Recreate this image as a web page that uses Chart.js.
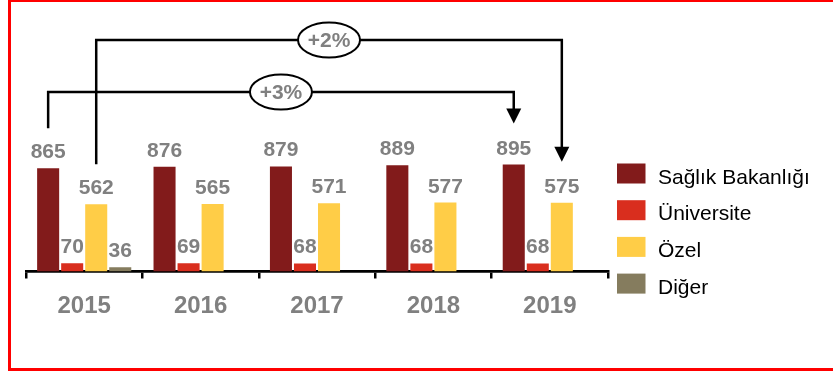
<!DOCTYPE html>
<html>
<head>
<meta charset="utf-8">
<script src="https://cdn.jsdelivr.net/npm/chart.js@4/dist/chart.umd.min.js"></script>
<style>
  html, body { margin: 0; padding: 0; background: #fff; overflow: hidden; }
  #wrap { position: relative; width: 833px; height: 373px; }
  #frame {
    position: absolute; left: 8px; top: -1px; width: 900px; height: 372px;
    box-sizing: border-box; border: 3px solid #ff0000; pointer-events: none;
  }
  canvas { position: absolute; left: 0; top: 0; }
</style>
</head>
<body>
<div id="wrap">
  <canvas id="chart" width="833" height="373"></canvas>
  <div id="frame"></div>
</div>
<script>
// Hospital bed counts by owner, 2015-2019
const years = ['2015', '2016', '2017', '2018', '2019'];
const seriesNames = ['Sağlık Bakanlığı', 'Üniversite', 'Özel', 'Diğer'];
const saglikBakanligi = [865, 876, 879, 889, 895];
const universite = [70, 69, 68, 68, 68];
const ozel = [562, 565, 571, 577, 575];
const diger = [36, null, null, null, null];
const seriesColors = ['#821B1B', '#D92E1E', '#FFCD47', '#857C5E'];

const FONT = "'Liberation Sans', Arial, sans-serif";
const GREY = '#808080';

// Value labels above each bar
const valueLabels = {
  id: 'valueLabels',
  afterDatasetsDraw(chart) {
    const ctx = chart.ctx;
    ctx.save();
    ctx.font = 'bold 21px ' + FONT;
    ctx.fillStyle = GREY;
    ctx.textAlign = 'center';
    ctx.textBaseline = 'alphabetic';
    chart.data.datasets.forEach((ds, i) => {
      const meta = chart.getDatasetMeta(i);
      meta.data.forEach((bar, j) => {
        const v = ds.data[j];
        if (v == null) return;
        ctx.fillText(String(v), bar.x, bar.y - 10);
      });
    });
    ctx.restore();
  }
};

// Growth brackets from first to last year, with a circled percentage
const growthArrows = {
  id: 'growthArrows',
  afterDraw(chart) {
    const ctx = chart.ctx;
    const arrows = [
      { dataset: 2, level: 40 },
      { dataset: 0, level: 92 }
    ];
    ctx.save();
    arrows.forEach(a => {
      const data = chart.data.datasets[a.dataset].data;
      const bars = chart.getDatasetMeta(a.dataset).data;
      const first = bars[0], last = bars[bars.length - 1];
      const pct = Math.round((data[data.length - 1] - data[0]) / data[0] * 100);
      const startY = first.y - 40;
      const tipY = last.y - 41;

      ctx.strokeStyle = '#000';
      ctx.lineWidth = 2.5;
      ctx.lineJoin = 'miter';
      ctx.beginPath();
      ctx.moveTo(first.x, startY);
      ctx.lineTo(first.x, a.level);
      ctx.lineTo(last.x, a.level);
      ctx.lineTo(last.x, tipY - 14);
      ctx.stroke();

      ctx.fillStyle = '#000';
      ctx.beginPath();
      ctx.moveTo(last.x, tipY);
      ctx.lineTo(last.x - 7.5, tipY - 15);
      ctx.lineTo(last.x + 7.5, tipY - 15);
      ctx.closePath();
      ctx.fill();

      const cx = (first.x + last.x) / 2;
      ctx.beginPath();
      ctx.ellipse(cx, a.level, 31, 17.5, 0, 0, Math.PI * 2);
      ctx.fillStyle = '#fff';
      ctx.fill();
      ctx.lineWidth = 2;
      ctx.stroke();

      ctx.fillStyle = GREY;
      ctx.font = 'bold 21px ' + FONT;
      ctx.textAlign = 'center';
      ctx.textBaseline = 'middle';
      ctx.fillText((pct >= 0 ? '+' : '') + pct + '%', cx, a.level + 1);
    });
    ctx.restore();
  }
};

// Legend on the right: coloured boxes with series names
const sideLegend = {
  id: 'sideLegend',
  afterDraw(chart) {
    const ctx = chart.ctx;
    const x0 = chart.chartArea.right + 9;
    const y0 = 163.5;
    ctx.save();
    ctx.font = '21px ' + FONT;
    ctx.textAlign = 'left';
    ctx.textBaseline = 'alphabetic';
    chart.data.datasets.forEach((ds, i) => {
      const y = y0 + i * 36.7;
      ctx.fillStyle = ds.backgroundColor;
      ctx.fillRect(x0, y, 28.5, 20);
      ctx.fillStyle = '#000';
      ctx.fillText(ds.label, x0 + 41, y + 20);
    });
    ctx.restore();
  }
};

const datasets = [saglikBakanligi, universite, ozel, diger].map((values, i) => ({
  label: seriesNames[i],
  data: values,
  backgroundColor: seriesColors[i],
  categoryPercentage: 0.826,
  barPercentage: 0.917
}));

new Chart(document.getElementById('chart'), {
  type: 'bar',
  data: { labels: years, datasets },
  options: {
    responsive: false,
    animation: false,
    layout: { padding: { left: 26, right: 225, top: 20, bottom: 0 } },
    plugins: {
      legend: { display: false },
      tooltip: { enabled: false }
    },
    scales: {
      x: {
        grid: {
          display: true,
          offset: true,
          drawOnChartArea: false,
          drawTicks: true,
          tickLength: 7,
          color: '#000',
          lineWidth: 2.5
        },
        border: { display: true, color: '#000', width: 2.7 },
        ticks: {
          color: GREY,
          font: { family: FONT, size: 24, weight: 'bold' },
          padding: 13,
          maxRotation: 0
        },
        afterFit(scale) { scale.height = 101.5; }
      },
      y: {
        display: false,
        min: 0,
        max: 2105
      }
    }
  },
  plugins: [valueLabels, growthArrows, sideLegend]
});
</script>
</body>
</html>
